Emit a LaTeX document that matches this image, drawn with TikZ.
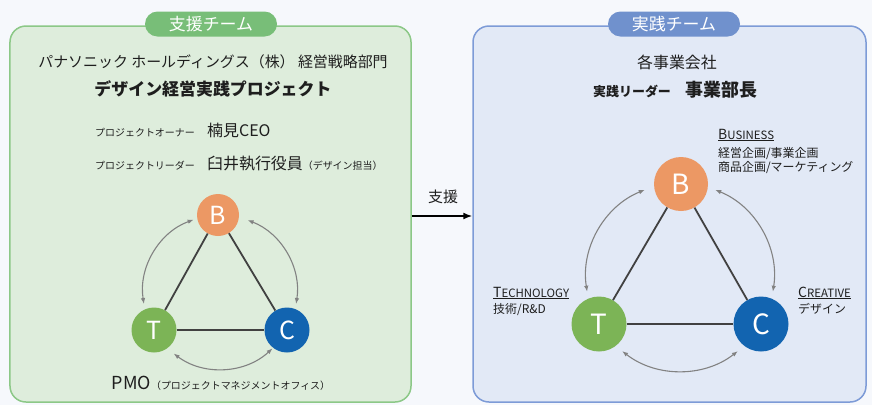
\documentclass[tikz,border=0pt]{standalone}
\usepackage{fontspec}
\setmainfont{Noto Sans CJK JP}
\usetikzlibrary{arrows.meta,shapes.misc}
\definecolor{pagebg}{RGB}{246,248,252}
\definecolor{supfill}{RGB}{222,237,220}
\definecolor{supline}{RGB}{140,200,135}
\definecolor{suptag}{RGB}{120,190,120}
\definecolor{pracfill}{RGB}{226,233,246}
\definecolor{pracline}{RGB}{125,155,215}
\definecolor{practag}{RGB}{112,145,205}
\definecolor{bizcol}{RGB}{236,152,100}
\definecolor{techcol}{RGB}{124,180,86}
\definecolor{creacol}{RGB}{18,100,176}
\definecolor{edgecol}{RGB}{65,65,65}
\definecolor{cyclecol}{RGB}{130,130,130}
\definecolor{textcol}{RGB}{30,30,30}
\newcommand{\fsz}[1]{\fontsize{#1}{#1}\selectfont}
\newcommand{\capsword}[2]{\underline{{\fsz{14}#1}{\fsz{11.5}#2}}}
\begin{document}
\begin{tikzpicture}[x=1bp, y=-1bp,
  team/.style={draw, line width=1.5bp, rounded corners=16bp, minimum width=#1, minimum height=376bp},
  teamtag/.style={rounded rectangle, minimum width=132bp, minimum height=25bp, inner sep=0pt, text=white, font=\fsz{17}},
  txt/.style={inner sep=0pt, text=textcol},
  role/.style={circle, inner sep=0pt, text=white, font=\fsz{25}},
  link/.style={draw=edgecol, line width=1.8bp},
  roundtrip/.style={draw=cyclecol, line width=1.1bp, {Latex[length=6bp,width=4.5bp]}-{Latex[length=6bp,width=4.5bp]}}]
  \useasboundingbox (0,0) rectangle (872,405);
  \fill[pagebg] (0,0) rectangle (872,405);

  \node[team=401bp, draw=supline, fill=supfill] (support) at (210.5,214) {};
  \node[team=393bp, draw=pracline, fill=pracfill] (practice) at (669.5,214) {};
  \node[teamtag, fill=suptag] (suptitle) at (211,24) {支援チーム};
  \node[teamtag, fill=practag] (practitle) at (674,24) {実践チーム};

  \node[txt, font=\fsz{15}] (company) at (213,62) {パナソニック ホールディングス（株） 経営戦略部門};
  \node[txt, font=\fsz{17}\bfseries] (project) at (213,89) {デザイン経営実践プロジェクト};
  \node[txt, font=\fsz{10}, anchor=base west] (ownerlbl) at (95,136) {プロジェクトオーナー};
  \node[txt, font=\fsz{16}, anchor=base west] (owner) at (207,136) {楠見CEO};
  \node[txt, font=\fsz{10}, anchor=base west] (leaderlbl) at (95,169) {プロジェクトリーダー};
  \node[txt, font=\fsz{16}, anchor=base west] (leader) at (207,169) {臼井執行役員{\fsz{10}（デザイン担当）}};

  \node[role, fill=bizcol, minimum size=42bp] (lb) at (218,215) {B};
  \node[role, fill=techcol, minimum size=45bp] (lt) at (154,330) {T};
  \node[role, fill=creacol, minimum size=45bp] (lc) at (287,330) {C};
  \draw[link] (lb) -- (lt);
  \draw[link] (lb) -- (lc);
  \draw[link] (lt) -- (lc);
  \coordinate (lhub) at (220,292);
  \coordinate (lbt) at ([shift={(-110:77)}]lhub);
  \coordinate (ltc) at ([shift={(-233:77)}]lhub);
  \coordinate (lcb) at ([shift={(9:77)}]lhub);
  \draw[roundtrip] (lbt) arc[start angle=-110, end angle=-189, radius=77];
  \draw[roundtrip] (ltc) arc[start angle=-233, end angle=-313, radius=77];
  \draw[roundtrip] (lcb) arc[start angle=9, end angle=-69, radius=77];
  \node[txt, anchor=base] (pmo) at (221,389) {{\fsz{18}PMO}{\fsz{10}（プロジェクトマネジメントオフィス）}};

  \draw[-{Latex[length=9bp,width=7bp]}, line width=1.5bp] ([yshift=-2bp]support.east) -- ([yshift=-2bp]practice.west);
  \node[txt, font=\fsz{15}] (aid) at (443,197) {支援};

  \node[txt, font=\fsz{16}] (firms) at (677,62) {各事業会社};
  \node[txt, font=\fsz{13}\bfseries, anchor=base west] (leadlbl) at (593,96) {実践リーダー};
  \node[txt, font=\fsz{18}\bfseries, anchor=base west] (head) at (685,96) {事業部長};

  \node[role, fill=bizcol, minimum size=54bp, font=\fsz{28}] (rb) at (681,184) {B};
  \node[role, fill=techcol, minimum size=55bp, font=\fsz{28}] (rt) at (599,324) {T};
  \node[role, fill=creacol, minimum size=55bp, font=\fsz{28}] (rc) at (761,324) {C};
  \draw[link] (rb) -- (rt);
  \draw[link] (rb) -- (rc);
  \draw[link] (rt) -- (rc);
  \coordinate (rhub) at (680,277);
  \coordinate (rbt) at ([shift={(-112:94)}]rhub);
  \coordinate (rtc) at ([shift={(-232:94)}]rhub);
  \coordinate (rcb) at ([shift={(9:94)}]rhub);
  \draw[roundtrip] (rbt) arc[start angle=-112, end angle=-189, radius=94];
  \draw[roundtrip] (rtc) arc[start angle=-232, end angle=-308, radius=94];
  \draw[roundtrip] (rcb) arc[start angle=9, end angle=-68, radius=94];

  \node[txt, anchor=base west] (bizname) at (718,139) {\capsword{B}{USINESS}};
  \node[txt, font=\fsz{12}, anchor=base west] (bizjob1) at (718,157) {経営企画/事業企画};
  \node[txt, font=\fsz{12}, anchor=base west] (bizjob2) at (718,171) {商品企画/マーケティング};
  \node[txt, anchor=base west] (techname) at (493,297) {\capsword{T}{ECHNOLOGY}};
  \node[txt, font=\fsz{12}, anchor=base west] (techjob) at (493,313) {技術/R\&D};
  \node[txt, anchor=base west] (creaname) at (798,297) {\capsword{C}{REATIVE}};
  \node[txt, font=\fsz{12}, anchor=base west] (creajob) at (798,313) {デザイン};
\end{tikzpicture}
\end{document}
